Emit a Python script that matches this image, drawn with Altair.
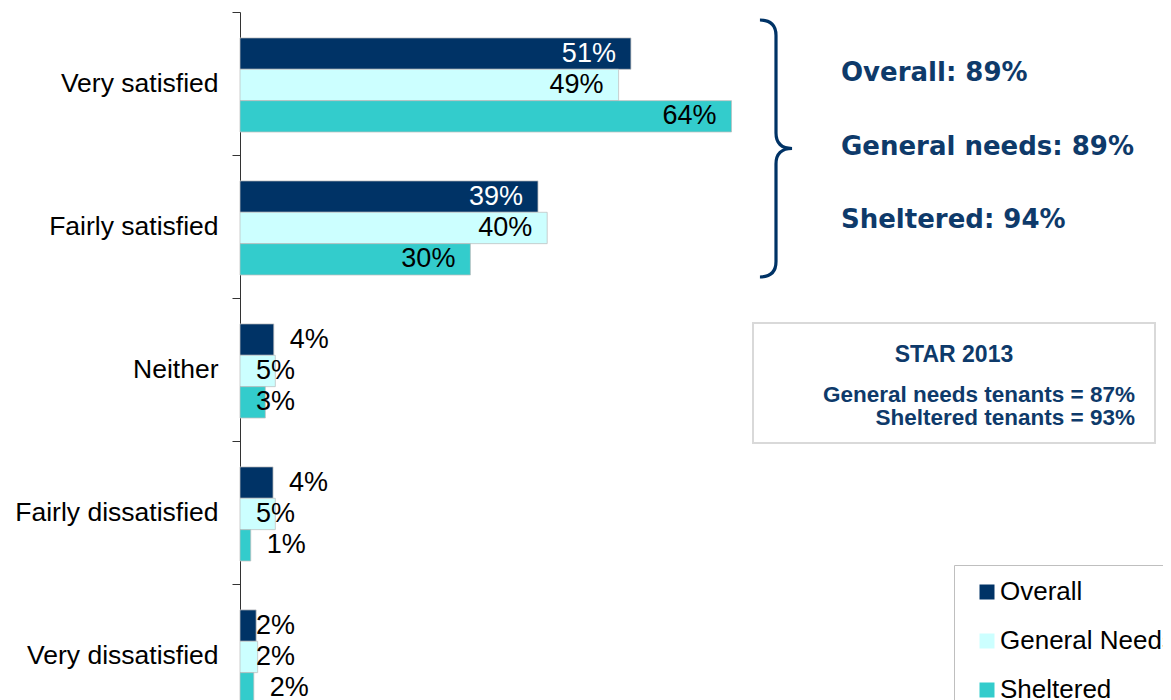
import altair as alt
import pandas as pd

# ---- data ----
categories = ["Very satisfied", "Fairly satisfied", "Neither",
              "Fairly dissatisfied", "Very dissatisfied"]
series = ["Overall", "General Needs", "Sheltered"]
overall = [50.9, 38.8, 4.4, 4.3, 2.1]
general_needs = [49.3, 40.0, 4.6, 4.6, 2.3]
sheltered = [64.0, 30.0, 3.3, 1.4, 1.8]
colors = ["#003366", "#CCFFFF", "#33CCCC"]

summary_lines = ["Overall: 89%", "General needs: 89%", "Sheltered: 94%"]
star_title = "STAR 2013"
star_lines = ["General needs tenants = 87%", "Sheltered tenants = 93%"]

rows = []
for s, vals in zip(series, [overall, general_needs, sheltered]):
    for c, v in zip(categories, vals):
        rows.append({"category": c, "series": s, "value": v})
df = pd.DataFrame(rows)

# ---- layout ----
W, H = 923, 688
BAND = 143
PX_PER_PCT = 7.68
NAVY = "#003366"
TXT = "#0E3A6A"
FONT = "Liberation Sans"

xscale = alt.Scale(domain=[0, W / PX_PER_PCT], nice=False, zero=True)
y_enc = alt.Y(
    "category:N", sort=categories,
    scale=alt.Scale(range=[0, 5 * BAND], paddingInner=0, paddingOuter=0),
    axis=alt.Axis(title=None, tickBand="extent", tickSize=8, tickColor="#333333",
                  domainColor="#333333", domainWidth=1, tickWidth=1,
                  labelFontSize=26.5, labelFont=FONT, labelColor="black",
                  labelPadding=14, labelLimit=400, grid=False),
)
yoff = alt.YOffset("series:N", sort=series,
                   scale=alt.Scale(paddingOuter=0.78, paddingInner=0, align=0.53))

base = alt.Chart(df).encode(y=y_enc, yOffset=yoff)

bars = base.mark_bar(stroke="#BFBFBF", strokeWidth=0.75).encode(
    x=alt.X("value:Q", scale=xscale, axis=None),
    color=alt.Color(
        "series:N", sort=series,
        scale=alt.Scale(domain=series, range=colors),
        legend=alt.Legend(
            title=None, orient="none", legendX=714, legendY=553,
            direction="vertical", symbolType="square", symbolSize=225,
            symbolStrokeWidth=0, labelFontSize=26, labelFont=FONT,
            labelColor="black", labelLimit=500, rowPadding=23, padding=14,
            symbolOffset=6, labelOffset=0, strokeColor="#BFBFBF",
            fillColor="white",
        ),
    ),
)

labels_big = base.transform_filter("datum.value >= 10").transform_calculate(
    lbl="format(datum.value, '.0f') + '%'"
).mark_text(align="right", dx=-15, baseline="middle", fontSize=27, font=FONT).encode(
    x=alt.X("value:Q", scale=xscale, axis=None),
    text="lbl:N",
    color=alt.condition(alt.datum.series == "Overall", alt.value("white"), alt.value("black")),
)

labels_small = base.transform_filter("datum.value < 10").transform_calculate(
    lbl="format(datum.value, '.0f') + '%'",
    lx="((datum.series == 'Overall' && datum.value >= 3) || datum.value < 2) ? datum.value : 0",
).mark_text(align="left", dx=16, baseline="middle", fontSize=27, font=FONT,
            color="black").encode(
    x=alt.X("lx:Q", scale=xscale, axis=None),
    text="lbl:N",
)

one = pd.DataFrame({"k": [0]})

BRACE = ("M -0.125 -1 Q 0 -1 0 -0.88 L 0 -0.12 Q 0 0 0.125 0 "
         "Q 0 0 0 0.12 L 0 0.88 Q 0 1 -0.125 1")
brace = alt.Chart(one).mark_point(
    shape=BRACE, size=257 * 257, filled=False, stroke=NAVY, strokeWidth=3.2,
    opacity=1,
).encode(x=alt.value(536), y=alt.value(136.5))

summary_layers = []
for txt, yy in zip(summary_lines, [69, 143, 216]):
    summary_layers.append(
        alt.Chart(one).mark_text(
            text=txt, align="left", baseline="alphabetic", fontSize=26,
            font="DejaVu Sans", fontWeight="bold", color=TXT,
        ).encode(x=alt.value(601), y=alt.value(yy))
    )

box = alt.Chart(one).mark_rect(fill="white", stroke="#D9D9D9", strokeWidth=2).encode(
    x=alt.value(513), x2=alt.value(915), y=alt.value(311), y2=alt.value(431)
)
star_t = alt.Chart(one).mark_text(
    text=star_title, align="center", baseline="alphabetic", fontSize=23,
    font=FONT, fontWeight="bold", color=TXT,
).encode(x=alt.value(714), y=alt.value(350))
star_layers = []
for txt, yy in zip(star_lines, [390, 413]):
    star_layers.append(
        alt.Chart(one).mark_text(
            text=txt, align="right", baseline="alphabetic", fontSize=22.5,
            font=FONT, fontWeight="bold", color=TXT,
        ).encode(x=alt.value(895), y=alt.value(yy))
    )

chart = alt.layer(
    bars, labels_big, labels_small, brace, *summary_layers, box, star_t, *star_layers
).properties(
    width=W, height=H,
    autosize=alt.AutoSizeParams(type="none"),
    padding={"left": 232, "top": 4, "right": 0, "bottom": 0},
    background="white",
).configure(font=FONT).configure_view(stroke=None)

chart.save("out.html", embed_options={"renderer": "svg", "actions": False})
